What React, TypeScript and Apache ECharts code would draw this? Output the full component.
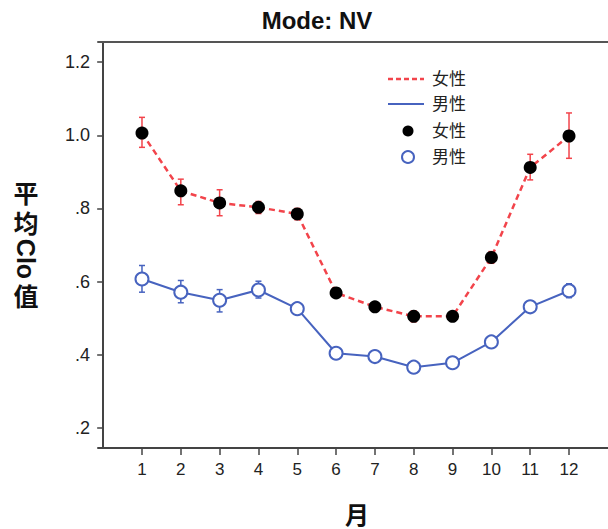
import React, { useEffect, useRef } from "react";
import * as echarts from "echarts";

const months = [1, 2, 3, 4, 5, 6, 7, 8, 9, 10, 11, 12];
const femaleMean = [1.006, 0.848, 0.815, 0.803, 0.785, 0.569, 0.531, 0.505, 0.505, 0.666, 0.912, 0.998];
const femaleLow = [0.967, 0.81, 0.78, 0.786, 0.769, 0.559, 0.52, 0.49, 0.497, 0.65, 0.878, 0.937];
const femaleHigh = [1.049, 0.88, 0.851, 0.819, 0.8, 0.579, 0.542, 0.52, 0.513, 0.682, 0.948, 1.061];
const maleMean = [0.607, 0.571, 0.549, 0.577, 0.526, 0.404, 0.395, 0.366, 0.378, 0.435, 0.531, 0.575];
const maleLow = [0.571, 0.542, 0.517, 0.555, 0.515, 0.396, 0.387, 0.358, 0.37, 0.425, 0.521, 0.556];
const maleHigh = [0.644, 0.603, 0.578, 0.601, 0.537, 0.412, 0.403, 0.374, 0.386, 0.445, 0.541, 0.594];
const yTicks = [0.2, 0.4, 0.6, 0.8, 1.0, 1.2];
const xTicks = months;

const RED = "#f2444b";
const BLUE = "#4763bf";
const FONT = "'Liberation Sans', 'Noto Sans CJK SC', sans-serif";

function errRender(color: string) {
  return (params: any, api: any) => {
    const x = api.value(0);
    const pLo = api.coord([x, api.value(1)]);
    const pHi = api.coord([x, api.value(2)]);
    const w = 3;
    const style = { stroke: color, lineWidth: 1.5 };
    return {
      type: "group",
      children: [
        { type: "line", shape: { x1: pLo[0], y1: pLo[1], x2: pHi[0], y2: pHi[1] }, style },
        { type: "line", shape: { x1: pLo[0] - w, y1: pLo[1], x2: pLo[0] + w, y2: pLo[1] }, style },
        { type: "line", shape: { x1: pHi[0] - w, y1: pHi[1], x2: pHi[0] + w, y2: pHi[1] }, style },
      ],
    };
  };
}

export default function App() {
  const ref = useRef<HTMLDivElement>(null);
  useEffect(() => {
    if (!ref.current) return;
    const chart = echarts.init(ref.current, null, { renderer: "svg" });
    const fPts = months.map((m, i) => [m, femaleMean[i]]);
    const mPts = months.map((m, i) => [m, maleMean[i]]);
    const fErr = months.map((m, i) => [m, femaleLow[i], femaleHigh[i]]);
    const mErr = months.map((m, i) => [m, maleLow[i], maleHigh[i]]);
    const legendText = (y: number, t: string) => ({
      type: "text",
      x: 432,
      y,
      style: { text: t, font: `17px ${FONT}`, fill: "#222", align: "left", verticalAlign: "middle" },
    });
    const yLabelChar = (y: number, t: string, rot = 0) => ({
      type: "text",
      x: 26,
      y,
      rotation: rot,
      style: { text: t, font: `bold 25px ${FONT}`, fill: "#111", align: "center", verticalAlign: "middle" },
    });
    chart.setOption({
      animation: false,
      backgroundColor: "#fff",
      title: {
        text: "Mode: NV",
        left: 312,
        top: 3,
        textAlign: "center",
        textStyle: { fontFamily: FONT, fontWeight: "bold", fontSize: 24, color: "#111" },
      },
      grid: {
        left: 98,
        top: 42,
        width: 515,
        bottom: 81,
        show: false,
        outerBoundsMode: "none",
        containLabel: false,
      },
      xAxis: [
        {
          type: "value",
          min: -0.133,
          max: 13.133,
          splitLine: { show: false },
          axisLine: { lineStyle: { color: "#444", width: 2 } },
          axisTick: { customValues: xTicks, length: 7, lineStyle: { color: "#444", width: 1.5 } },
          axisLabel: { customValues: xTicks, fontSize: 17, color: "#222", fontFamily: FONT, margin: 13 },
        },
        {
          type: "value",
          position: "top",
          min: -0.133,
          max: 13.133,
          splitLine: { show: false },
          axisLine: { show: true, lineStyle: { color: "#555", width: 2 } },
          axisTick: { show: false },
          axisLabel: { show: false },
        },
      ],
      yAxis: {
        type: "value",
        min: 0.145,
        max: 1.255,
        splitLine: { show: false },
        axisLine: { show: true, lineStyle: { color: "#444", width: 2 } },
        axisTick: { show: true, customValues: yTicks, length: 6, lineStyle: { color: "#444", width: 1.5 } },
        axisLabel: {
          customValues: yTicks,
          fontSize: 18,
          color: "#222",
          fontFamily: FONT,
          margin: 8,
          formatter: (v: number) => (v >= 1 ? v.toFixed(1) : "." + Math.round(v * 10)),
        },
      },
      graphic: [
        { type: "line", shape: { x1: 388, y1: 79, x2: 424, y2: 79 }, style: { stroke: RED, lineWidth: 2.5, lineDash: [5, 3] } },
        legendText(79, "女性"),
        { type: "line", shape: { x1: 388, y1: 104, x2: 424, y2: 104 }, style: { stroke: BLUE, lineWidth: 2 } },
        legendText(104, "男性"),
        { type: "circle", shape: { cx: 408, cy: 131, r: 5.5 }, style: { fill: "#000" } },
        legendText(131, "女性"),
        { type: "circle", shape: { cx: 408, cy: 157, r: 6 }, style: { fill: "#fff", stroke: BLUE, lineWidth: 2 } },
        legendText(157, "男性"),
        yLabelChar(194, "平"),
        yLabelChar(224, "均"),
        yLabelChar(259, "Clo", -Math.PI / 2),
        yLabelChar(297, "值"),
        {
          type: "text",
          x: 357,
          y: 515,
          style: { text: "月", font: `bold 24px ${FONT}`, fill: "#111", align: "center", verticalAlign: "middle" },
        },
      ],
      series: [
        {
          type: "line",
          data: fPts,
          symbol: "none",
          lineStyle: { color: RED, width: 2.5, type: [6, 4] },
          z: 2,
        },
        {
          type: "line",
          data: mPts,
          symbol: "none",
          lineStyle: { color: BLUE, width: 2 },
          z: 2,
        },
        { type: "custom", data: fErr, renderItem: errRender(RED), z: 3 },
        { type: "custom", data: mErr, renderItem: errRender(BLUE), z: 3 },
        {
          type: "scatter",
          data: fPts,
          symbol: "circle",
          symbolSize: 13,
          itemStyle: { color: "#000", opacity: 1 },
          z: 4,
        },
        {
          type: "scatter",
          data: mPts,
          symbol: "circle",
          symbolSize: 13,
          itemStyle: { color: "#fff", borderColor: BLUE, borderWidth: 2, opacity: 1 },
          z: 4,
        },
      ],
    });
    return () => chart.dispose();
  }, []);
  return <div ref={ref} style={{ position: "absolute", left: 0, top: 0, width: 608, height: 529 }} />;
}
